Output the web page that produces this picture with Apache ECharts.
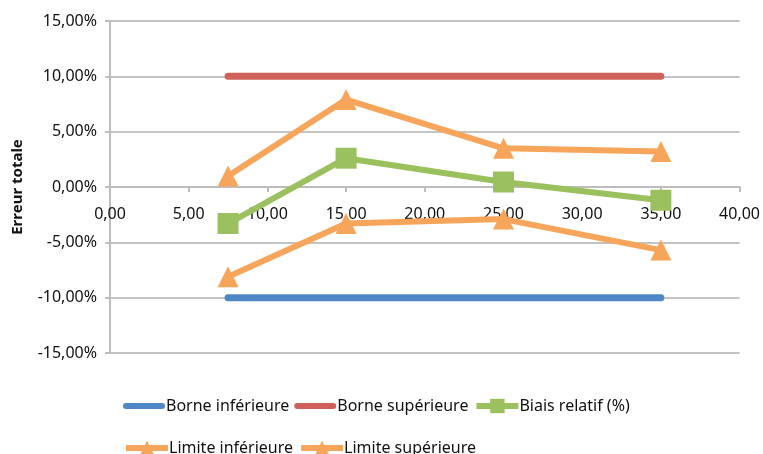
<!DOCTYPE html>
<html>
<head>
<meta charset="utf-8">
<script src="https://cdn.jsdelivr.net/npm/echarts@6/dist/echarts.min.js"></script>
<style>
  html, body { margin: 0; padding: 0; background: #fff; }
  #chart { width: 763px; height: 454px; }
</style>
</head>
<body>
<div id="chart"></div>
<script>
// abscisses des points
var xValues = [7.5, 15, 25, 35];
// valeurs en %
var borneInferieure = [-10, -10, -10, -10];
var borneSuperieure = [10, 10, 10, 10];
var biaisRelatif = [-3.3, 2.6, 0.45, -1.2];
var limiteInferieure = [-8.1, -3.3, -2.9, -5.7];
var limiteSuperieure = [1.0, 7.9, 3.5, 3.2];

var legendRow1 = ['Borne inférieure', 'Borne supérieure', 'Biais relatif (%)'];
var legendRow2 = ['Limite inférieure', 'Limite supérieure'];

function pairs(ys) {
  return xValues.map(function (x, i) { return [x, ys[i]]; });
}
function frNum(v) {
  return v.toFixed(2).replace('.', ',');
}

// trait arrondi pour la légende des bornes (sans marqueur)
var lineIcon = 'path://M3,0 L39,0 A3,3 0 0 1 39,6 L3,6 A3,3 0 0 1 3,0 Z';

var font = 'Noto Sans';
var gridTop = 21, gridBottom = 101, chartH = 454;
var chart = echarts.init(document.getElementById('chart'));

var legendBase = {
  itemWidth: 42, itemHeight: 18, itemGap: 5,
  lineStyle: { width: 6 },
  textStyle: { fontSize: 16, color: '#111', fontFamily: font, padding: [0, 0, 0, -4] }
};

var option = {
  animation: false,
  textStyle: { fontFamily: font },
  grid: { left: 110, right: 21, top: gridTop, bottom: gridBottom },
  legend: [
    Object.assign({}, legendBase, {
      left: 118, top: 393,
      data: legendRow1.map(function (n, i) { return i < 2 ? { name: n, icon: lineIcon } : n; })
    }),
    Object.assign({}, legendBase, { left: 118, top: 435, data: legendRow2 })
  ],
  xAxis: {
    type: 'value',
    min: 0, max: 40, interval: 5,
    // axe placé sur la ligne 0 % (milieu de la grille)
    offset: -(chartH - gridTop - gridBottom) / 2,
    axisLine: { onZero: false, lineStyle: { color: '#bdbdbd', width: 2 } },
    axisTick: { show: true, length: 5, lineStyle: { color: '#bdbdbd', width: 2 } },
    axisLabel: { fontSize: 16, color: '#111', margin: 19, formatter: frNum },
    splitLine: { show: false }
  },
  yAxis: {
    type: 'value',
    min: -15, max: 15, interval: 5,
    name: 'Erreur totale',
    nameLocation: 'middle',
    nameRotate: 90,
    nameGap: 85,
    nameTextStyle: { fontSize: 15, fontWeight: 'bold', color: '#111' },
    axisLine: { show: true, onZero: false, lineStyle: { color: '#bdbdbd', width: 2 } },
    axisTick: { show: true, length: 5, lineStyle: { color: '#bdbdbd', width: 2 } },
    axisLabel: { fontSize: 16, color: '#111', margin: 13,
      formatter: function (v) { return frNum(v) + '%'; } },
    splitLine: { lineStyle: { color: '#c4c4c4', width: 2 } }
  },
  series: [{
    name: 'Borne inférieure',
    type: 'line',
    data: pairs(borneInferieure),
    showSymbol: false, symbol: 'none',
    lineStyle: { color: '#4f86c6', width: 7, cap: 'round' },
    itemStyle: { color: '#4f86c6' }
  }, {
    name: 'Borne supérieure',
    type: 'line',
    data: pairs(borneSuperieure),
    showSymbol: false, symbol: 'none',
    lineStyle: { color: '#d0605a', width: 7, cap: 'round' },
    itemStyle: { color: '#d0605a' }
  }, {
    name: 'Biais relatif (%)',
    type: 'line',
    data: pairs(biaisRelatif),
    symbol: 'rect', symbolSize: 21,
    lineStyle: { color: '#9bc05e', width: 6 },
    itemStyle: { color: '#9bc05e' }
  }, {
    name: 'Limite inférieure',
    type: 'line',
    data: pairs(limiteInferieure),
    symbol: 'triangle', symbolSize: 21,
    lineStyle: { color: '#f7a55a', width: 6 },
    itemStyle: { color: '#f7a55a' }
  }, {
    name: 'Limite supérieure',
    type: 'line',
    data: pairs(limiteSuperieure),
    symbol: 'triangle', symbolSize: 21,
    lineStyle: { color: '#f7a55a', width: 6 },
    itemStyle: { color: '#f7a55a' }
  }]
};

chart.setOption(option);
</script>
</body>
</html>
